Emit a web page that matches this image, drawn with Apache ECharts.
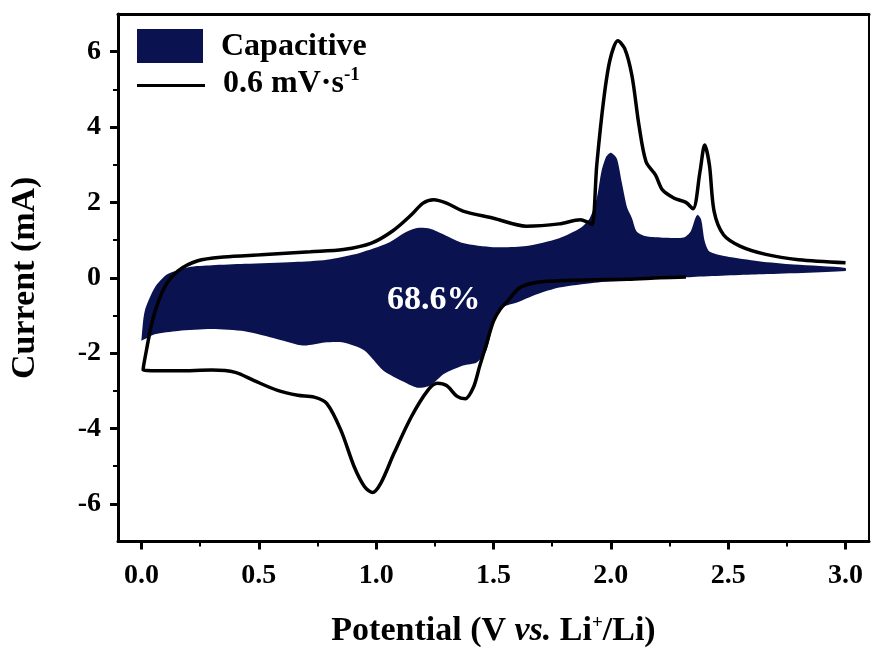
<!DOCTYPE html>
<html><head><meta charset="utf-8">
<script src="https://cdn.jsdelivr.net/npm/echarts@6/dist/echarts.min.js"></script>
<style>html,body{margin:0;padding:0;background:#fff}#c{width:871px;height:653px}</style>
</head><body><div id="c"></div>
<script>
// Black CV curve (0.6 mV/s): cathodic branch from 2.32 V down to 0 V, then anodic branch up to 3.0 V
const cvPotential = [2.32,2.21,2.07,1.93,1.78,1.685,1.61,1.56,1.53,1.50,1.47,1.44,1.415,1.38,1.345,1.30,1.26,1.22,1.15,1.076,1.02,0.984,0.95,0.906,0.85,0.79,0.736,0.666,0.58,0.48,0.40,0.30,0.156,0.007,
  0.021,0.05,0.098,0.156,0.24,0.35,0.51,0.72,0.86,0.98,1.07,1.15,1.20,1.245,1.30,1.37,1.50,1.64,1.78,1.87,1.90,1.92,1.94,1.97,1.997,2.03,2.06,2.09,2.12,2.15,2.19,2.22,2.27,2.32,2.35,2.38,2.40,2.42,2.44,2.48,2.55,2.66,2.80,3.0];
const cvCurrent = [0.02,0.0,-0.04,-0.05,-0.08,-0.12,-0.27,-0.62,-0.82,-1.15,-1.76,-2.37,-2.90,-3.21,-3.15,-2.86,-2.80,-2.99,-3.69,-4.66,-5.45,-5.70,-5.54,-5.01,-4.05,-3.34,-3.17,-3.12,-2.99,-2.73,-2.51,-2.45,-2.47,-2.45,
  -1.93,-1.06,-0.26,0.18,0.45,0.55,0.61,0.69,0.75,0.92,1.24,1.67,1.98,2.07,1.98,1.77,1.58,1.37,1.43,1.54,1.48,1.41,2.99,4.75,5.80,6.29,6.07,5.36,4.04,3.08,2.73,2.33,2.11,2.0,1.83,2.82,3.52,2.99,1.76,1.14,0.84,0.62,0.48,0.40];

// Capacitive contribution region: upper edge (increasing potential), then lower edge (decreasing potential)
const capPotential = [0.0,0.014,0.057,0.11,0.20,0.30,0.44,0.65,0.79,0.93,1.05,1.12,1.175,1.23,1.29,1.37,1.50,1.64,1.78,1.87,1.91,1.94,1.96,1.98,2.00,2.025,2.046,2.07,2.09,2.11,2.15,2.21,2.31,2.34,2.36,2.37,2.385,2.40,2.42,2.49,2.63,2.78,3.0,
  3.0,2.63,2.35,2.21,2.07,1.93,1.78,1.685,1.60,1.54,1.50,1.47,1.43,1.37,1.29,1.23,1.175,1.12,1.03,0.95,0.86,0.78,0.69,0.58,0.44,0.30,0.156,0.057,0.0];
const capCurrent = [-1.63,-0.88,-0.26,0.09,0.28,0.33,0.37,0.42,0.48,0.66,0.92,1.19,1.32,1.30,1.14,0.92,0.81,0.84,1.05,1.32,1.58,2.11,2.82,3.21,3.32,3.17,2.55,1.85,1.58,1.23,1.10,1.07,1.07,1.23,1.58,1.67,1.54,0.97,0.70,0.57,0.44,0.35,0.26,
  0.18,0.09,0.02,-0.02,-0.07,-0.13,-0.26,-0.44,-0.66,-0.79,-1.23,-1.93,-2.24,-2.33,-2.55,-2.86,-2.92,-2.77,-2.46,-1.93,-1.72,-1.72,-1.80,-1.63,-1.42,-1.36,-1.41,-1.50,-1.67];

const percentLabel = '68.6%';
const percentPos = [1.245, -0.6];

const xMajorTicks = [0, 0.5, 1.0, 1.5, 2.0, 2.5, 3.0];
const xMinorTicks = [0.25, 0.75, 1.25, 1.75, 2.25, 2.75];
const yMajorTicks = [-6, -4, -2, 0, 2, 4, 6];
const yMinorTicks = [-5, -3, -1, 1, 3, 5];

const cvData = cvPotential.map((v, i) => [v, cvCurrent[i]]);
const capData = capPotential.map((v, i) => [v, capCurrent[i]]);

const FONT = "'Liberation Serif','Times New Roman',serif";
const NAVY = '#0a1250';

const chart = echarts.init(document.getElementById('c'));
const baseX = {type: 'value', min: -0.1, max: 3.1, splitLine: {show: false}};
const baseY = {type: 'value', min: -7, max: 7, splitLine: {show: false}};

chart.setOption({
  animation: false,
  backgroundColor: '#fff',
  grid: {left: 117, right: 2, top: 14, bottom: 108, containLabel: false},
  xAxis: [
    Object.assign({}, baseX, {
      position: 'bottom',
      name: 'Potential (V {i|vs.} Li{sup|+}/Li)',
      nameLocation: 'middle', nameGap: 72,
      nameTextStyle: {fontFamily: FONT, fontWeight: 'bold', fontSize: 34, color: '#000',
        rich: {i: {fontFamily: FONT, fontWeight: 'bold', fontStyle: 'italic', fontSize: 34, color: '#000'},
               sup: {fontFamily: FONT, fontWeight: 'bold', fontSize: 19, color: '#000', verticalAlign: 'top', padding: [0, 0, 16, 0]}}},
      axisLine: {onZero: false, lineStyle: {color: '#000', width: 3}},
      axisTick: {customValues: xMajorTicks, length: 8, lineStyle: {color: '#000', width: 3}},
      axisLabel: {customValues: xMajorTicks, margin: 20, formatter: v => v.toFixed(1),
        fontFamily: FONT, fontWeight: 'bold', fontSize: 28, color: '#000'}
    }),
    Object.assign({}, baseX, {
      position: 'bottom',
      axisLine: {show: false, onZero: false},
      axisTick: {customValues: xMinorTicks, length: 5, lineStyle: {color: '#000', width: 2}},
      axisLabel: {show: false}
    }),
    Object.assign({}, baseX, {
      position: 'top',
      axisLine: {onZero: false, lineStyle: {color: '#000', width: 3}},
      axisTick: {show: false}, axisLabel: {show: false}
    })
  ],
  yAxis: [
    Object.assign({}, baseY, {
      position: 'left',
      name: 'Current (mA)', nameLocation: 'middle', nameGap: 76, nameRotate: 90,
      nameTextStyle: {fontFamily: FONT, fontWeight: 'bold', fontSize: 34, color: '#000'},
      axisLine: {onZero: false, lineStyle: {color: '#000', width: 3}},
      axisTick: {customValues: yMajorTicks, length: 8, lineStyle: {color: '#000', width: 3}},
      axisLabel: {customValues: yMajorTicks, margin: 17,
        fontFamily: FONT, fontWeight: 'bold', fontSize: 28, color: '#000'}
    }),
    Object.assign({}, baseY, {
      position: 'left',
      axisLine: {show: false, onZero: false},
      axisTick: {customValues: yMinorTicks, length: 5, lineStyle: {color: '#000', width: 2}},
      axisLabel: {show: false}
    }),
    Object.assign({}, baseY, {
      position: 'right',
      axisLine: {onZero: false, lineStyle: {color: '#000', width: 2}},
      axisTick: {show: false}, axisLabel: {show: false}
    })
  ],
  series: [
    {
      name: 'Capacitive', type: 'custom', xAxisIndex: 0, yAxisIndex: 0,
      data: capData, encode: {x: 0, y: 1}, z: 2,
      renderItem: function (params, api) {
        if (params.dataIndex !== 0) return;
        const pts = capData.map(p => api.coord(p));
        return {type: 'polygon', shape: {points: pts, smooth: 0.25}, style: {fill: NAVY, stroke: null}};
      }
    },
    {
      name: '0.6 mV·s-1', type: 'line', xAxisIndex: 0, yAxisIndex: 0,
      data: cvData, showSymbol: false, smooth: 0.3, z: 3,
      lineStyle: {color: '#000', width: 3.5}
    },
    {
      type: 'scatter', xAxisIndex: 0, yAxisIndex: 0, z: 4,
      data: [percentPos], symbolSize: 0, itemStyle: {opacity: 1},
      label: {show: true, position: 'inside', formatter: percentLabel, opacity: 1,
        fontFamily: FONT, fontWeight: 'bold', fontSize: 34, color: '#ffffff', textBorderWidth: 0}
    }
  ],
  graphic: [
    {type: 'rect', left: 137, top: 29, shape: {width: 66, height: 34}, style: {fill: NAVY}},
    {type: 'rect', left: 137, top: 84, shape: {width: 68, height: 3}, style: {fill: '#000'}},
    {type: 'text', left: 221, top: 31, style: {text: 'Capacitive', fontFamily: FONT, fontWeight: 'bold', fontSize: 32, fill: '#000'}},
    {type: 'text', left: 223, top: 66, style: {text: '0.6 mV·s{sup|-1}', fontFamily: FONT, fontWeight: 'bold', fontSize: 32, fill: '#000',
      rich: {sup: {fontFamily: FONT, fontWeight: 'bold', fontSize: 19, fill: '#000', verticalAlign: 'top', padding: [0, 0, 16, 0]}}}}
  ]
});
</script>
</body></html>
